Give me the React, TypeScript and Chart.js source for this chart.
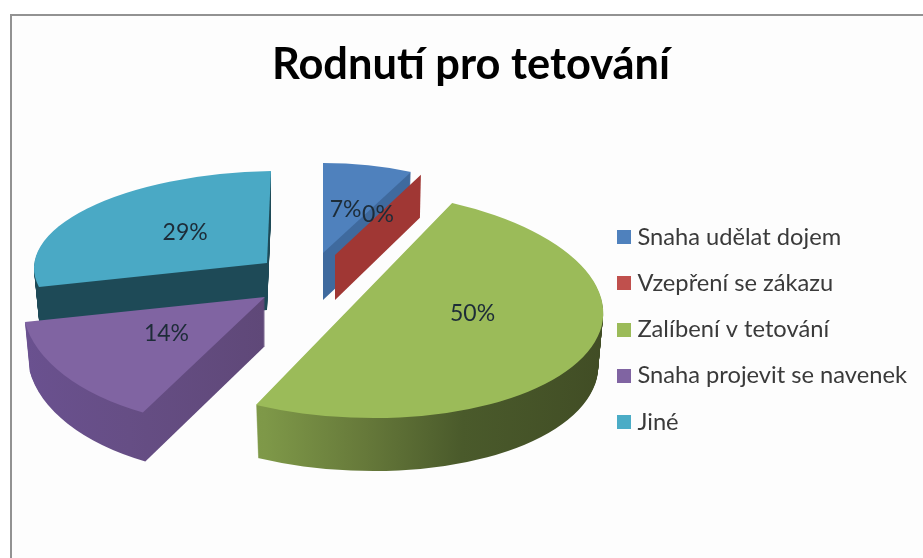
import React, { useEffect, useRef } from "react";
import { Chart, registerables } from "chart.js";

Chart.register(...registerables);

const categories = ["Snaha udělat dojem", "Vzepření se zákazu", "Zalíbení v tetování", "Snaha projevit se navenek", "Jiné"];
const values = [1, 0, 7, 2, 4];
const topColors = ["#4f81bd", "#a83a37", "#9bbb59", "#8064a2", "#4aa9c5"];
const legendColors = ["#4f81bd", "#c0504d", "#9bbb59", "#8064a2", "#4bacc6"];
const sideStops: [number, string][][] = [
  [[0, "#3f6a9e"], [1, "#3f6a9e"]],
  [[0, "#a03734"], [1, "#a03734"]],
  [[0, "#8aa64e"], [0.3, "#7e9848"], [0.5, "#66793a"], [0.7, "#4a5a2b"], [1, "#414d25"]],
  [[0, "#6a5190"], [0.25, "#664e85"], [0.5, "#5f4878"], [1, "#5f4878"]],
  [[0, "#1e4a57"], [1, "#1e4a57"]],
];
// A local view of the exploded 3D pie for each slice: apex and axes of its projected ellipse.
const views = [
  { x: 323, y: 253, a: 203, b: 0, c: 0, d: 90, depth: 47 },
  { x: 335, y: 255, a: 198, b: 0, c: 0, d: 89, depth: 45 },
  { x: 354, y: 304, a: 249, b: 4, c: 11, d: 114, depth: 53 },
  { x: 265, y: 297, a: 242, b: 4, c: -19, d: 130, depth: 49 },
  { x: 267, y: 263, a: 233, b: -3.6, c: -4, d: 92, depth: 47 },
];
const drawOrder = [4, 0, 1, 2, 3];
const labelNudges = [[0, 0], [0, 0], [4, -17], [2, -2], [8, -3]];
const bottomShrink = 0.98;

function swatch(color: string) {
  const c = document.createElement("canvas");
  c.width = 14;
  c.height = 14;
  const g = c.getContext("2d") as CanvasRenderingContext2D;
  g.fillStyle = color;
  g.fillRect(0, 0, 14, 14);
  return c;
}

const piePlugin = {
  id: "pie3d",
  afterLayout(chart: any) {
    const lg = chart.legend;
    lg.left = 600;
    lg.right = 923;
    lg.top = 202.6;
    lg.bottom = 558;
    const t = chart.titleBlock;
    t.left = 9.5;
    t.right = 932.5;
  },
  beforeDatasetDraw(chart: any) {
    const ctx: CanvasRenderingContext2D = chart.ctx;
    const arcs = chart.getDatasetMeta(0).data;
    const total = values.reduce((s, v) => s + v, 0);
    const apply = (arc: any, i: number, dy: number, k: number) => {
      const v = views[i];
      const R = arc.outerRadius;
      ctx.translate(v.x, v.y + dy);
      ctx.transform((v.a * k) / R, v.b / R, (v.c * k) / R, v.d / R, 0, 0);
      ctx.translate(-arc.x, -arc.y);
    };
    for (const i of drawOrder) {
      const arc = arcs[i];
      const v = views[i];
      const R = arc.outerRadius;
      if (arc.circumference === 0) {
        const th = arc.startAngle;
        const ux = Math.cos(th);
        const uy = Math.sin(th);
        const rx = v.x + v.a * ux + v.c * uy;
        const ry = v.y + v.b * ux + v.d * uy;
        ctx.save();
        ctx.fillStyle = sideStops[i][0][1];
        ctx.beginPath();
        ctx.moveTo(v.x, v.y);
        ctx.lineTo(rx, ry);
        ctx.lineTo(rx - 1, ry + v.depth - 2);
        ctx.lineTo(v.x, v.y + v.depth);
        ctx.closePath();
        ctx.fill();
        ctx.restore();
        continue;
      }
      const grad = ctx.createLinearGradient(arc.x - R, 0, arc.x + R, 0);
      sideStops[i].forEach(([p, col]) => grad.addColorStop(p, col));
      const side = Object.create(arc);
      side.options = { ...arc.options, backgroundColor: grad };
      for (let dy = v.depth; dy >= 1; dy -= 1) {
        ctx.save();
        apply(arc, i, dy, 1 - ((1 - bottomShrink) * dy) / v.depth);
        side.draw(ctx);
        ctx.restore();
      }
      ctx.save();
      apply(arc, i, 0, 1);
      arc.draw(ctx);
      ctx.restore();
    }
    ctx.save();
    ctx.font = "23px Lato";
    ctx.fillStyle = "#1d2c38";
    ctx.textAlign = "center";
    ctx.textBaseline = "middle";
    arcs.forEach((arc: any, i: number) => {
      const v = views[i];
      const m = (arc.startAngle + arc.endAngle) / 2;
      const ux = Math.cos(m) * 0.5;
      const uy = Math.sin(m) * 0.5;
      const x = v.x + v.a * ux + v.c * uy + labelNudges[i][0];
      const y = v.y + v.b * ux + v.d * uy + labelNudges[i][1];
      ctx.fillText(Math.round((values[i] / total) * 100) + "%", x, y);
    });
    ctx.restore();
    return false;
  },
};

export default function App() {
  const ref = useRef<HTMLCanvasElement>(null);
  useEffect(() => {
    const chart = new Chart(ref.current as HTMLCanvasElement, {
      type: "pie",
      data: {
        labels: categories,
        datasets: [{ data: values, backgroundColor: topColors, borderWidth: 0 }],
      },
      options: {
        animation: false,
        responsive: false,
        plugins: {
          tooltip: { enabled: false },
          title: {
            display: true,
            text: "Rodnutí pro tetování",
            color: "#000000",
            font: { family: "Lato", size: 43.4, weight: "bold" },
            padding: { top: 39, bottom: 10 },
          },
          legend: {
            position: "right",
            align: "start",
            labels: {
              usePointStyle: true,
              pointStyleWidth: 3,
              boxHeight: 14,
              padding: 22.55,
              color: "#3a3a3a",
              font: { family: "Lato", size: 23.7 },
              generateLabels: () =>
                categories.map((text, i) => ({
                  text,
                  fillStyle: legendColors[i],
                  strokeStyle: legendColors[i],
                  lineWidth: 0,
                  pointStyle: swatch(legendColors[i]),
                  fontColor: "#3a3a3a",
                  index: i,
                })),
            },
          },
        },
      } as any,
      plugins: [piePlugin],
    });
    return () => chart.destroy();
  }, []);
  return (
    <div style={{ position: "fixed", inset: 0, background: "#ffffff", overflow: "hidden" }}>
      <div style={{ position: "absolute", left: 10, top: 14, width: 1000, height: 700, border: "2px solid #929292", boxSizing: "border-box", background: "#fdfdfd" }} />
      <canvas ref={ref} width={923} height={558} style={{ position: "absolute", left: 0, top: 0 }} />
    </div>
  );
}
